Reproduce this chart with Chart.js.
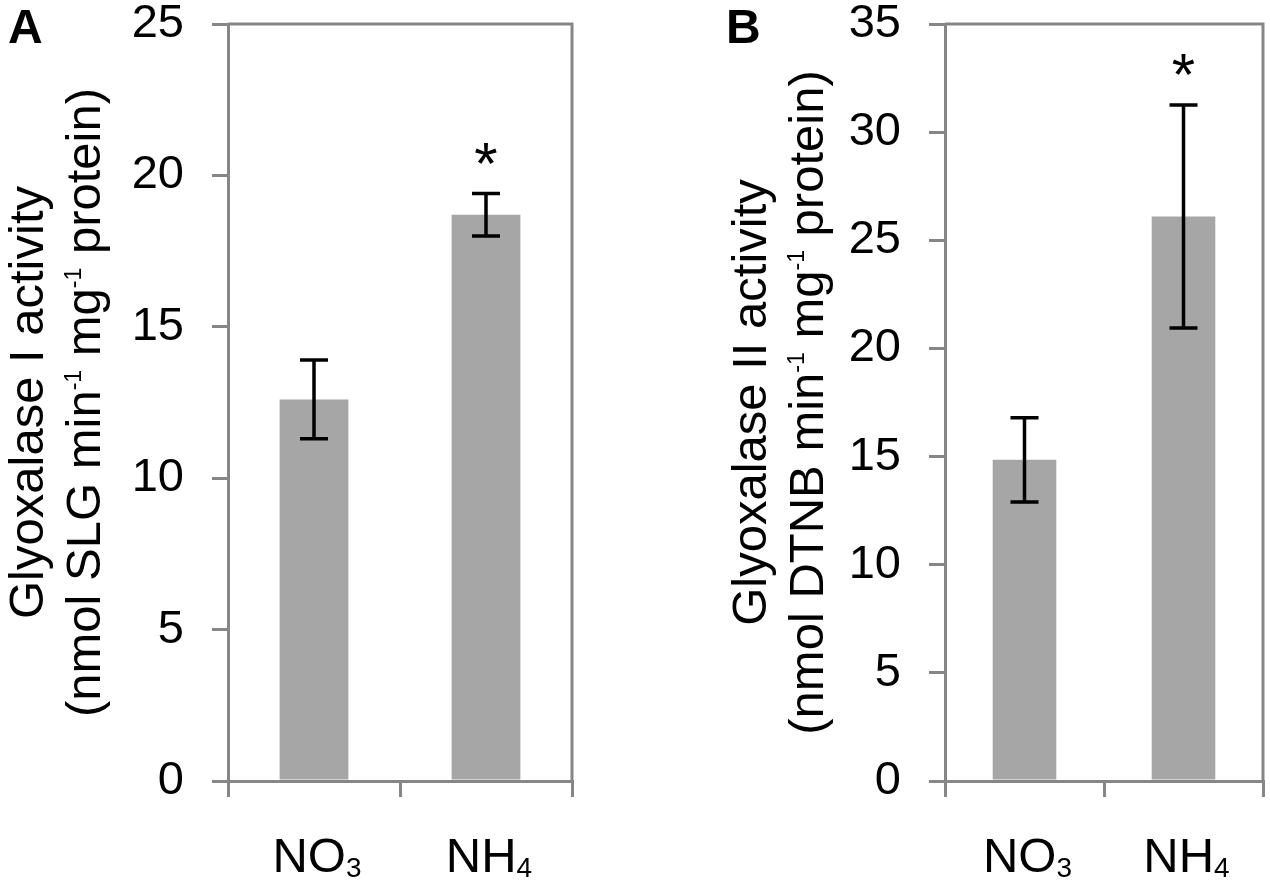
<!DOCTYPE html>
<html>
<head>
<meta charset="utf-8">
<title>Glyoxalase activity</title>
<script src="https://cdn.jsdelivr.net/npm/chart.js@4.4.1/dist/chart.umd.min.js"></script>
<style>
    html, body { margin: 0; padding: 0; background: #fff; }
    #wrap { position: relative; width: 1270px; height: 882px; overflow: hidden; }
    .panel { position: absolute; top: 0; width: 635px; height: 882px; }
</style>
</head>
<body>
<div id="wrap">
    <div class="panel" style="left:0"><canvas id="chartA" width="635" height="882"></canvas></div>
    <div class="panel" style="left:635px"><canvas id="chartB" width="635" height="882"></canvas></div>
</div>
<script>
// ---- data ----
const categories = ['NO3', 'NH4'];
const categoryParts = [['NO', '3'], ['NH', '4']];   // base text + subscript

const glyIMeans = [12.6, 18.7];
const glyIErrors = [1.3, 0.7];

const glyIIMeans = [14.85, 26.1];
const glyIIErrors = [1.95, 5.15];

const sigMarks = ['', '*'];

const ticksA = [0, 5, 10, 15, 20, 25];
const ticksB = [0, 5, 10, 15, 20, 25, 30, 35];

// ---- styling ----
const axisGray = '#868686';
const barGray = '#a6a6a6';
const fontFamily = "'Liberation Sans', Arial, Helvetica, sans-serif";

// draw a run of text segments (normal / sup / sub) starting at x0 on baseline y0
function segFont(seg, size) {
    if (seg.sup) return { size: size * 0.47, dy: -size * 0.39 };
    if (seg.sub) return { size: size * 0.57, dy: size * 0.1 };
    return { size: size, dy: 0 };
}

function measureSegments(ctx, segs, size) {
    let w = 0;
    segs.forEach(seg => {
        const f = segFont(seg, size);
        ctx.font = `${f.size}px ${fontFamily}`;
        w += ctx.measureText(seg.t).width;
    });
    return w;
}

function drawSegments(ctx, segs, x0, y0, size) {
    let x = x0;
    segs.forEach(seg => {
        const f = segFont(seg, size);
        ctx.font = `${f.size}px ${fontFamily}`;
        ctx.fillText(seg.t, x, y0 + f.dy);
        x += ctx.measureText(seg.t).width;
    });
}

// frame, error bars, significance marks, rich labels and titles
const panelDecor = {
    id: 'panelDecor',
    afterDraw(chart, args, opts) {
        const { ctx, chartArea: area, scales: { x, y } } = chart;
        const ds = chart.data.datasets[0];
        ctx.save();

        // top and right border of the plot box
        ctx.strokeStyle = axisGray;
        ctx.lineWidth = 3;
        ctx.beginPath();
        ctx.moveTo(area.left, area.top);
        ctx.lineTo(area.right, area.top);
        ctx.lineTo(area.right, area.bottom);
        ctx.stroke();

        // error bars + asterisks
        const meta = chart.getDatasetMeta(0);
        meta.data.forEach((bar, i) => {
            const v = ds.data[i];
            const e = ds.errors[i];
            const yTop = y.getPixelForValue(v + e);
            const yBot = y.getPixelForValue(v - e);
            const cap = 14;
            ctx.strokeStyle = '#000';
            ctx.lineWidth = 3.5;
            ctx.beginPath();
            ctx.moveTo(bar.x, yTop); ctx.lineTo(bar.x, yBot);
            ctx.moveTo(bar.x - cap, yTop); ctx.lineTo(bar.x + cap, yTop);
            ctx.moveTo(bar.x - cap, yBot); ctx.lineTo(bar.x + cap, yBot);
            ctx.stroke();

            if (ds.marks[i]) {
                ctx.fillStyle = '#000';
                ctx.font = `60px ${fontFamily}`;
                ctx.textAlign = 'center';
                ctx.textBaseline = 'alphabetic';
                ctx.fillText(ds.marks[i], bar.x, yTop - 10);
            }
        });

        // category labels with subscripts
        ctx.fillStyle = '#000';
        ctx.textAlign = 'left';
        ctx.textBaseline = 'alphabetic';
        categoryParts.forEach((parts, i) => {
            const segs = [{ t: parts[0] }, { t: parts[1], sub: true }];
            const w = measureSegments(ctx, segs, 49);
            const cx = x.getPixelForValue(i) + 3;
            drawSegments(ctx, segs, cx - w / 2, area.bottom + 91, 49);
        });

        // rotated two-line y title
        const cy = (area.top + area.bottom) / 2;
        opts.titleLines.forEach((segs, li) => {
            ctx.save();
            ctx.translate(opts.titleX[li], cy);
            ctx.rotate(-Math.PI / 2);
            const w = measureSegments(ctx, segs, 49);
            drawSegments(ctx, segs, -w / 2, 0, 49);
            ctx.restore();
        });

        // panel letter
        ctx.font = `bold 48px ${fontFamily}`;
        ctx.fillText(opts.letter, opts.letterX, 43);

        ctx.restore();
    }
};

function makePanel(canvasId, means, errors, tickList, cfg) {
    const ctx = document.getElementById(canvasId).getContext('2d');
    return new Chart(ctx, {
        type: 'bar',
        data: {
            labels: categories,
            datasets: [{
                data: means,
                errors: errors,
                marks: sigMarks,
                backgroundColor: barGray,
                borderWidth: 0,
                barPercentage: 0.4,
                categoryPercentage: 1.0
            }]
        },
        options: {
            responsive: false,
            animation: false,
            devicePixelRatio: 1,
            layout: { padding: { top: 24, right: cfg.padRight, left: 0, bottom: 0 } },
            plugins: {
                legend: { display: false },
                tooltip: { enabled: false },
                panelDecor: cfg.decor
            },
            scales: {
                x: {
                    offset: true,
                    ticks: { display: false },
                    grid: {
                        offset: true,
                        drawOnChartArea: false,
                        drawTicks: true,
                        tickLength: 16,
                        color: axisGray,
                        lineWidth: 3
                    },
                    border: { color: axisGray, width: 3 },
                    afterFit: scale => { scale.height = 101; }
                },
                y: {
                    min: tickList[0],
                    max: tickList[tickList.length - 1],
                    ticks: {
                        stepSize: tickList[1] - tickList[0],
                        color: '#000',
                        padding: 28,
                        font: { family: fontFamily, size: 47, lineHeight: 1 }
                    },
                    grid: {
                        drawOnChartArea: false,
                        drawTicks: true,
                        tickLength: 16,
                        color: axisGray,
                        lineWidth: 3
                    },
                    border: { color: axisGray, width: 3 },
                    afterFit: scale => {
                        scale.width = cfg.yWidth;
                        // let the top tick label overhang the plot box
                        scale.paddingTop = 0;
                        scale.paddingBottom = 0;
                    }
                }
            }
        },
        plugins: [panelDecor]
    });
}

makePanel('chartA', glyIMeans, glyIErrors, ticksA, {
    padRight: 63,
    yWidth: 228,
    decor: {
        letter: 'A',
        letterX: 8,
        titleX: [43, 100],
        titleLines: [
            [{ t: 'Glyoxalase I activity' }],
            [{ t: '(nmol SLG min' }, { t: '-1', sup: true }, { t: ' mg' }, { t: '-1', sup: true }, { t: ' protein)' }]
        ]
    }
});

makePanel('chartB', glyIIMeans, glyIIErrors, ticksB, {
    padRight: 7,
    yWidth: 310,
    decor: {
        letter: 'B',
        letterX: 91,
        titleX: [131, 188],
        titleLines: [
            [{ t: 'Glyoxalase II activity' }],
            [{ t: '(nmol DTNB min' }, { t: '-1', sup: true }, { t: ' mg' }, { t: '-1', sup: true }, { t: ' protein)' }]
        ]
    }
});
</script>
</body>
</html>
